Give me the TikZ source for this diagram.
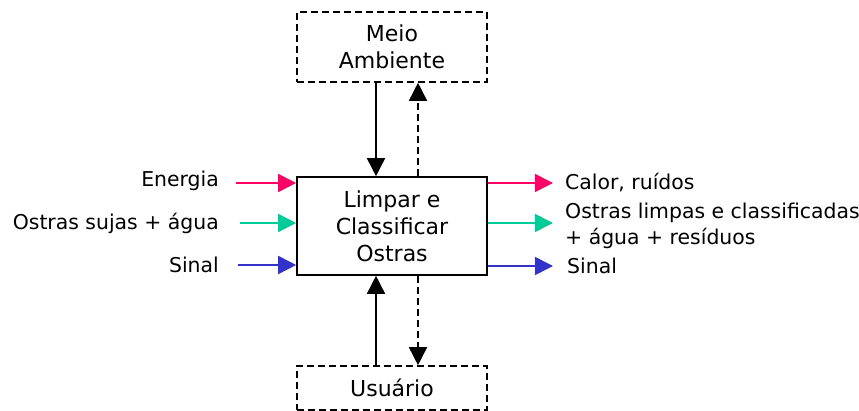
\documentclass[tikz,border=0pt]{standalone}
\usepackage{fontspec}
\setmainfont{DejaVu Sans}
\usetikzlibrary{arrows.meta,positioning}
\definecolor{energia}{RGB}{255,0,102}
\definecolor{materia}{RGB}{0,204,153}
\definecolor{sinal}{RGB}{51,51,204}

\begin{document}
\begin{tikzpicture}[
	x = 1pt, y = -1pt,
	every node/.style = {font = \fontsize{20.4}{26.5}\selectfont, inner sep = 0pt},
	block/.style = {draw, line width = 1.6pt, minimum width = 190pt, minimum height = 98pt, align = center, font = \fontsize{22}{27}\selectfont},
	extern/.style = {block, minimum height = 70pt, dash pattern = on 7pt off 4pt},
	flow/.style = {-{Triangle[length = 18pt, width = 18pt]}, line width = 1.6pt},
	back/.style = {flow, dash pattern = on 7pt off 4pt}
	]
	\useasboundingbox (0,0) rectangle (859,411);

	% sistema e vizinhanca
	\node[block] (proc) at (392,226) {Limpar e\\Classificar\\Ostras};
	\node[extern] (meio) at (392,47) {Meio\\Ambiente};
	\node[extern, minimum height = 44pt] (user) at (392,388) {Usuário};

	\draw[flow] ([xshift = -16pt]meio.south) -- ([xshift = -16pt]proc.north);
	\draw[back] ([xshift = 26pt]proc.north) -- ([xshift = 26pt]meio.south);
	\draw[flow] ([xshift = -16pt]user.north) -- ([xshift = -16pt]proc.south);
	\draw[back] ([xshift = 26pt]proc.south) -- ([xshift = 26pt]user.north);

	% entradas
	\node[anchor = east] (inE) at (219,181) {Energia};
	\node[anchor = east] (inM) at (219,223) {Ostras sujas + água};
	\node[anchor = east] (inS) at (219,265) {Sinal};
	\draw[flow, energia] ([xshift = 17pt, yshift = -2pt]inE.east) -- ([yshift = -2pt]inE.east -| proc.west);
	\draw[flow, materia] ([xshift = 21pt]inM.east) -- (inM.east -| proc.west);
	\draw[flow, sinal] ([xshift = 19pt]inS.east) -- (inS.east -| proc.west);

	% saidas
	\node[anchor = west] (outE) at (565,183) {Calor, ruídos};
	\node[anchor = west, align = left] (outM) at (565,226) {Ostras limpas e classificadas\\+ água + resíduos};
	\node[anchor = west] (outS) at (567,266) {Sinal};
	\draw[flow, energia] (proc.east |- outE.west) -- ([xshift = -12pt]outE.west);
	\draw[flow, materia] (proc.east |- 0,223) -- ([xshift = -12pt, yshift = 3pt]outM.west);
	\draw[flow, sinal] (proc.east |- outS.west) -- ([xshift = -14pt]outS.west);
\end{tikzpicture}
\end{document}
